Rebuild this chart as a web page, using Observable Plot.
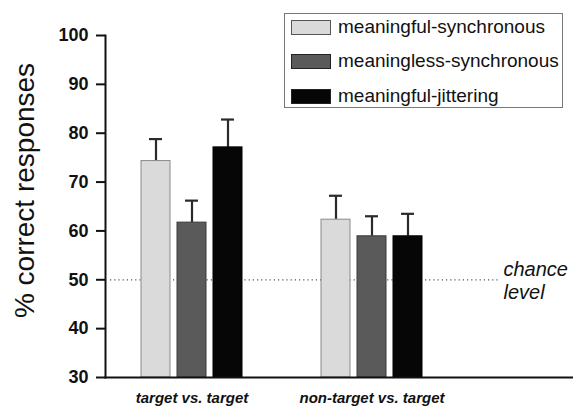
<!DOCTYPE html>
<html>
<head>
<meta charset="utf-8">
<script src="https://cdn.jsdelivr.net/npm/d3@7"></script>
<script src="https://cdn.jsdelivr.net/npm/@observablehq/plot@0.6"></script>
<style>
  html, body { margin: 0; padding: 0; background: #fff; }
  #wrap { position: relative; width: 573px; height: 407px; font-family: "Liberation Sans", Arial, sans-serif; }
  #legend { position: absolute; left: 284px; top: 13px; width: 277px; height: 93px; border: 1px solid #777; background: #fff; box-sizing: content-box; }
  .row { position: absolute; left: 6px; height: 16px; display: flex; align-items: center; font-size: 19px; color: #111; white-space: nowrap; }
  .sw { width: 38px; height: 13px; margin-right: 7px; border: 1px solid #333; }
</style>
</head>
<body>
<div id="wrap"><div id="chart"></div><div id="legend"></div></div>
<script>
// ---- data ----
const groups = ["target vs. target", "non-target vs. target"];
const series = ["meaningful-synchronous", "meaningless-synchronous", "meaningful-jittering"];
const meansTarget = [74.3, 61.7, 77.1];
const errTarget = [4.5, 4.5, 5.7];
const meansNonTarget = [62.3, 58.9, 58.9];
const errNonTarget = [4.9, 4.1, 4.6];
const yTicks = [30, 40, 50, 60, 70, 80, 90, 100];
const chanceValue = 50;
const chanceLabel = "chance\nlevel";
const yLabel = "% correct responses";

// ---- styles ----
const fills = ["#dadada", "#5a5a5a", "#060606"];
const strokes = ["#8a8a8a", "#3a3a3a", "#000000"];

const table = [];
[[meansTarget, errTarget], [meansNonTarget, errNonTarget]].forEach(([m, e], gi) => {
  series.forEach((s, si) => {
    table.push({group: groups[gi], series: s, si, key: groups[gi] + "|" + s, mean: m[si], err: e[si]});
  });
});
const keyDomain = [
  ...series.map(s => groups[0] + "|" + s),
  "gap-a", "gap-b",
  ...series.map(s => groups[1] + "|" + s)
];
const midKeys = groups.map(g => g + "|" + series[1]);
const yMin = yTicks[0], yMax = yTicks[yTicks.length - 1];

const chart = Plot.plot({
  width: 573,
  height: 407,
  marginLeft: 105,
  marginRight: 0,
  marginTop: 35,
  marginBottom: 30,
  style: {fontFamily: '"Liberation Sans", Arial, sans-serif', background: "#fff", color: "#111"},
  x: {type: "band", domain: keyDomain, range: [136, 427.4], paddingInner: 0.19, paddingOuter: 0.095, axis: null},
  y: {domain: [yMin, yMax], axis: null},
  color: {type: "identity"},
  marks: [
    Plot.ruleY([chanceValue], {stroke: "#555", strokeWidth: 1.2, strokeDasharray: "1.2,3", insetLeft: 5, insetRight: 75}),
    Plot.ruleX(table, {x: "key", y1: "mean", y2: d => d.mean + d.err, stroke: "#2a2a2a", strokeWidth: 2.2}),
    Plot.tickY(table, {x: "key", y: d => d.mean + d.err, stroke: "#2a2a2a", strokeWidth: 2.2, insetLeft: 8, insetRight: 8}),
    Plot.barY(table, {x: "key", y1: yMin, y2: "mean", fill: d => fills[d.si], stroke: d => strokes[d.si], strokeWidth: 1}),
    Plot.frame({anchor: "left", stroke: "#111", strokeWidth: 2}),
    Plot.frame({anchor: "bottom", stroke: "#111", strokeWidth: 2}),
    Plot.axisY({ticks: yTicks, tickSize: 9, tickPadding: 8, tickFormat: d => String(d), fontSize: 18, fontWeight: "bold", stroke: "#111", strokeWidth: 2, label: null}),
    Plot.axisX({ticks: midKeys, tickFormat: k => k.split("|")[0], tickSize: 0, tickPadding: 15, fontSize: 15, fontWeight: "bold", fontStyle: "italic", label: null}),
    Plot.text([yLabel], {frameAnchor: "left", textAnchor: "middle", rotate: -90, dx: -80, dy: -16, fontSize: 28, fill: "#111"}),
    Plot.text([chanceValue], {y: d => d, text: () => chanceLabel, frameAnchor: "right", textAnchor: "start", dx: -70, fontSize: 20, fontStyle: "italic", lineHeight: 1.15, fill: "#111"})
  ]
});
document.getElementById("chart").appendChild(chart);

// legend
const legend = document.getElementById("legend");
const rowTops = [5, 39, 74];
series.forEach((s, i) => {
  const row = document.createElement("div");
  row.className = "row";
  row.style.top = rowTops[i] + "px";
  const sw = document.createElement("div");
  sw.className = "sw";
  sw.style.background = fills[i];
  sw.style.borderColor = i === 0 ? "#555" : "#222";
  row.appendChild(sw);
  row.appendChild(document.createTextNode(s));
  legend.appendChild(row);
});
</script>
</body>
</html>
